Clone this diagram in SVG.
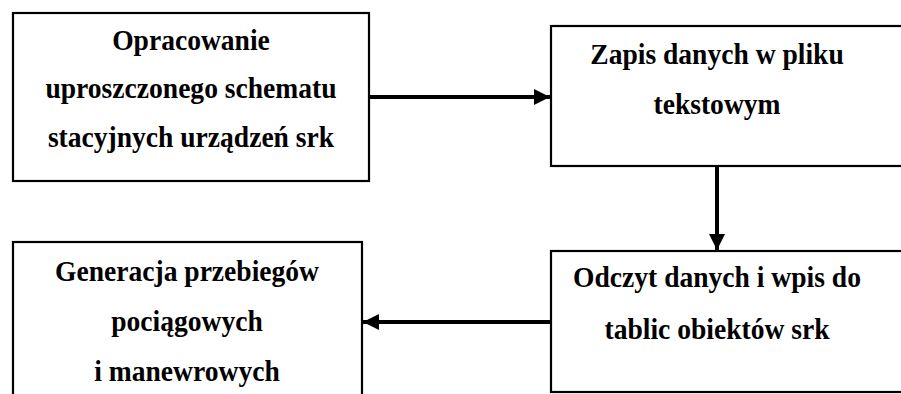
<svg xmlns="http://www.w3.org/2000/svg" width="901" height="394" viewBox="0 0 901 394">
  <style>
    .box { fill: #fff; stroke: #000; stroke-width: 2.2; }
    .conn { stroke: #000; stroke-width: 4; fill: none; }
  </style>
  <defs>
    <marker id="arrow" viewBox="0 0 10 10" refX="10" refY="5" markerUnits="userSpaceOnUse" markerWidth="16" markerHeight="16" orient="auto">
      <path d="M0,0 L10,5 L0,10 z" fill="#000"/>
    </marker>
  </defs>
  <rect width="901" height="394" fill="#fff"/>

  <!-- labels: bold serif, slightly enlarged glyphs -->
  <g font-family="Liberation Serif, serif" font-weight="bold" font-size="26" text-anchor="middle" fill="#000">
    <g id="node-opracowanie">
      <rect class="box" x="13" y="13" width="356" height="168"/>
      <text transform="translate(191,50) scale(1.06,1.1)">Opracowanie</text>
      <text transform="translate(191,98) scale(1.06,1.1)">uproszczonego schematu</text>
      <text transform="translate(191,147) scale(1.06,1.1)">stacyjnych urządzeń srk</text>
    </g>

    <g id="node-zapis">
      <rect class="box" x="551" y="26" width="360" height="140"/>
      <text transform="translate(717,64) scale(1.06,1.1)">Zapis danych w pliku</text>
      <text transform="translate(717,114) scale(1.06,1.1)">tekstowym</text>
    </g>

    <g id="node-odczyt">
      <rect class="box" x="551" y="251" width="360" height="141"/>
      <text transform="translate(717,287) scale(1.06,1.1)">Odczyt danych i wpis do</text>
      <text transform="translate(717,339) scale(1.06,1.1)">tablic obiektów srk</text>
    </g>

    <g id="node-generacja">
      <rect class="box" x="13" y="242" width="349" height="170"/>
      <text transform="translate(187,281) scale(1.06,1.1)">Generacja przebiegów</text>
      <text transform="translate(187,331) scale(1.06,1.1)">pociągowych</text>
      <text transform="translate(187,381) scale(1.06,1.1)">i manewrowych</text>
    </g>
  </g>

  <g id="connectors">
    <line class="conn" x1="370" y1="97" x2="550" y2="97" marker-end="url(#arrow)"/>
    <line class="conn" x1="717" y1="167" x2="717" y2="250" marker-end="url(#arrow)"/>
    <line class="conn" x1="550" y1="322" x2="363" y2="322" marker-end="url(#arrow)"/>
  </g>
</svg>
